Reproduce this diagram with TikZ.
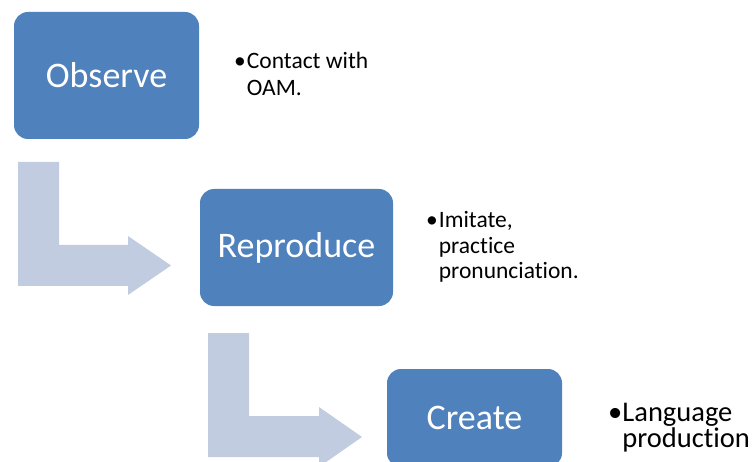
\documentclass[tikz,border=0pt]{standalone}
\usepackage{fontspec}
\setmainfont{Carlito}[RawFeature=-liga]
\usepackage{xcolor}
\definecolor{stageBlue}{RGB}{79,129,189}
\definecolor{arrowGray}{RGB}{193,204,225}

\begin{document}
\begin{tikzpicture}[x=1pt,y=-1pt]
% Define styles
\tikzstyle{stageBox}=[rectangle, rounded corners=14pt, inner sep=0pt, text centered, fill=stageBlue, text=white, font=\fontsize{36}{43}\selectfont]
\tikzstyle{noteText}=[anchor=base west, inner sep=0pt, text=black]
\tikzstyle{bentArrow}=[fill=arrowGray, draw=none]

\clip (0,0) rectangle (752,462);
\useasboundingbox (0,0) rectangle (752,462);

% Bent arrows between the stages
\fill[bentArrow] (18,162) -- (59,162) -- (59,245) -- (128,245) -- (128,236) -- (171,265.5)
  -- (128,295) -- (128,286) -- (18,286) -- cycle;
\fill[bentArrow] (208,333) -- (249,333) -- (249,416) -- (319,416) -- (319,407) -- (362,437)
  -- (319,467) -- (319,457) -- (208,457) -- cycle;

% Stage boxes
\node[stageBox, minimum width=185pt, minimum height=127pt] (observe) at (106.5,75.5) {Observe};
\node[stageBox, minimum width=193pt, minimum height=117pt] (reproduce) at (296.5,247.5) {Reproduce};
\node[stageBox, minimum width=175pt, minimum height=98pt] (create) at (474.5,418) {Create};

% Notes
\node[noteText, font=\fontsize{23.5}{26.7}\selectfont] (observeNote) at (234,69)
  {\begin{tabular}[t]{@{}l@{\hspace{1pt}}l@{}}\textbullet&Contact with\\&OAM.\end{tabular}};
\node[noteText, font=\fontsize{23.5}{25.5}\selectfont] (reproduceNote) at (426,228)
  {\begin{tabular}[t]{@{}l@{\hspace{1pt}}l@{}}\textbullet&Imitate,\\&practice\\&pronunciation.\end{tabular}};
\node[noteText, font=\fontsize{28.5}{24}\selectfont] (createNote) at (608,421)
  {\begin{tabular}[t]{@{}l@{}l@{}}\textbullet&Language\\&production\end{tabular}};
\end{tikzpicture}
\end{document}
